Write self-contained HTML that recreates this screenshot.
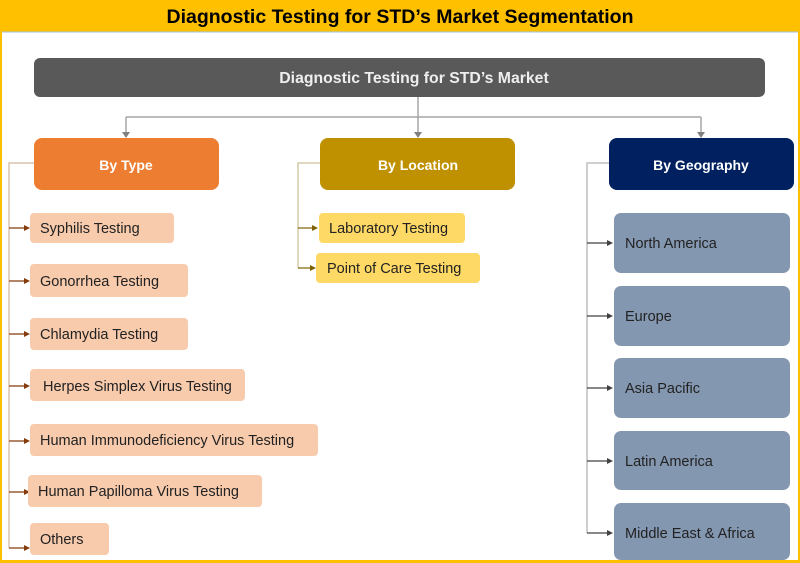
<!DOCTYPE html>
<html><head><style>
html,body{margin:0;padding:0;background:#fff;}
svg{display:block;font-family:"Liberation Sans",sans-serif;}
</style></head><body>
<svg width="800" height="563" viewBox="0 0 800 563" xmlns="http://www.w3.org/2000/svg">
<rect x="0" y="0" width="800" height="563" fill="#FFC000"/>
<rect x="2" y="32" width="796" height="528" fill="#fff"/>
<line x1="2" y1="32" x2="798" y2="32" stroke="#9DC3E6" stroke-width="1"/>
<text x="400" y="23" text-anchor="middle" font-size="19.5" font-weight="bold" fill="#000">Diagnostic Testing for STD’s Market Segmentation</text>

<rect x="34" y="58" width="731" height="39" rx="6" fill="#595959"/>
<text x="414" y="83" text-anchor="middle" font-size="15.8" font-weight="bold" fill="#eee">Diagnostic Testing for STD’s Market</text>

<g stroke="#A6A6A6" stroke-width="1.5" fill="none">
<line x1="418" y1="97" x2="418" y2="117"/>
<line x1="126" y1="117" x2="701" y2="117"/>
<line x1="126" y1="117" x2="126" y2="134"/>
<line x1="418" y1="117" x2="418" y2="134"/>
<line x1="701" y1="117" x2="701" y2="134"/>
</g>
<g fill="#7F7F7F">
<polygon points="122,132 130,132 126,138"/>
<polygon points="414,132 422,132 418,138"/>
<polygon points="697,132 705,132 701,138"/>
</g>

<rect x="34" y="138" width="185" height="52" rx="8" fill="#ED7D31"/>
<text x="126" y="170" text-anchor="middle" font-size="14" font-weight="bold" fill="#fff">By Type</text>
<rect x="320" y="138" width="195" height="52" rx="8" fill="#BF9000"/>
<text x="418" y="170" text-anchor="middle" font-size="14" font-weight="bold" fill="#fff">By Location</text>
<rect x="609" y="138" width="185" height="52" rx="8" fill="#002060"/>
<text x="701" y="170" text-anchor="middle" font-size="14" font-weight="bold" fill="#fff">By Geography</text>

<g stroke="#D9C3B0" stroke-width="1.5" fill="none">
<polyline points="34,163 9,163 9,548"/>
</g>
<g stroke="#843C0C" stroke-width="1.2">
<line x1="9" y1="228" x2="26" y2="228"/>
<line x1="9" y1="281" x2="26" y2="281"/>
<line x1="9" y1="334" x2="26" y2="334"/>
<line x1="9" y1="386" x2="26" y2="386"/>
<line x1="9" y1="441" x2="26" y2="441"/>
<line x1="9" y1="492" x2="26" y2="492"/>
<line x1="9" y1="548" x2="26" y2="548"/>
</g>
<g fill="#843C0C">
<polygon points="24,225 30,228 24,231"/>
<polygon points="24,278 30,281 24,284"/>
<polygon points="24,331 30,334 24,337"/>
<polygon points="24,383 30,386 24,389"/>
<polygon points="24,438 30,441 24,444"/>
<polygon points="24,489 30,492 24,495"/>
<polygon points="24,545 30,548 24,551"/>
</g>
<g fill="#F8CBAD">
<rect x="30" y="213" width="144" height="30" rx="4"/>
<rect x="30" y="264" width="158" height="33" rx="4"/>
<rect x="30" y="318" width="158" height="32" rx="4"/>
<rect x="30" y="369" width="215" height="32" rx="4"/>
<rect x="30" y="424" width="288" height="32" rx="4"/>
<rect x="28" y="475" width="234" height="32" rx="4"/>
<rect x="30" y="523" width="79" height="32" rx="4"/>
</g>
<g font-size="14.5" fill="#222">
<text x="40" y="233">Syphilis Testing</text>
<text x="40" y="286">Gonorrhea Testing</text>
<text x="40" y="339">Chlamydia Testing</text>
<text x="43" y="391">Herpes Simplex Virus Testing</text>
<text x="40" y="445">Human Immunodeficiency Virus Testing</text>
<text x="38" y="496">Human Papilloma Virus Testing</text>
<text x="40" y="544">Others</text>
</g>

<polyline points="320,163 298,163 298,268" stroke="#D6CBA8" stroke-width="1.5" fill="none"/>
<g stroke="#7F6000" stroke-width="1.2">
<line x1="298" y1="228" x2="314" y2="228"/>
<line x1="298" y1="268" x2="312" y2="268"/>
</g>
<g fill="#7F6000">
<polygon points="312,225 318,228 312,231"/>
<polygon points="310,265 316,268 310,271"/>
</g>
<rect x="319" y="213" width="146" height="30" rx="4" fill="#FFD966"/>
<rect x="316" y="253" width="164" height="30" rx="4" fill="#FFD966"/>
<g font-size="14.5" fill="#222">
<text x="329" y="233">Laboratory Testing</text>
<text x="327" y="273">Point of Care Testing</text>
</g>

<polyline points="609,163 587,163 587,533" stroke="#BFBFBF" stroke-width="1.5" fill="none"/>
<g stroke="#404040" stroke-width="1.2">
<line x1="587" y1="243" x2="608" y2="243"/>
<line x1="587" y1="316" x2="608" y2="316"/>
<line x1="587" y1="388" x2="608" y2="388"/>
<line x1="587" y1="461" x2="608" y2="461"/>
<line x1="587" y1="533" x2="608" y2="533"/>
</g>
<g fill="#404040">
<polygon points="607,240 613,243 607,246"/>
<polygon points="607,313 613,316 607,319"/>
<polygon points="607,385 613,388 607,391"/>
<polygon points="607,458 613,461 607,464"/>
<polygon points="607,530 613,533 607,536"/>
</g>
<g fill="#8497B0">
<rect x="614" y="213" width="176" height="60" rx="7"/>
<rect x="614" y="286" width="176" height="60" rx="7"/>
<rect x="614" y="358" width="176" height="60" rx="7"/>
<rect x="614" y="431" width="176" height="59" rx="7"/>
<rect x="614" y="503" width="176" height="57" rx="7"/>
</g>
<g font-size="14.5" fill="#222">
<text x="625" y="248">North America</text>
<text x="625" y="321">Europe</text>
<text x="625" y="393">Asia Pacific</text>
<text x="625" y="466">Latin America</text>
<text x="625" y="538">Middle East &amp; Africa</text>
</g>
</svg>
</body></html>
